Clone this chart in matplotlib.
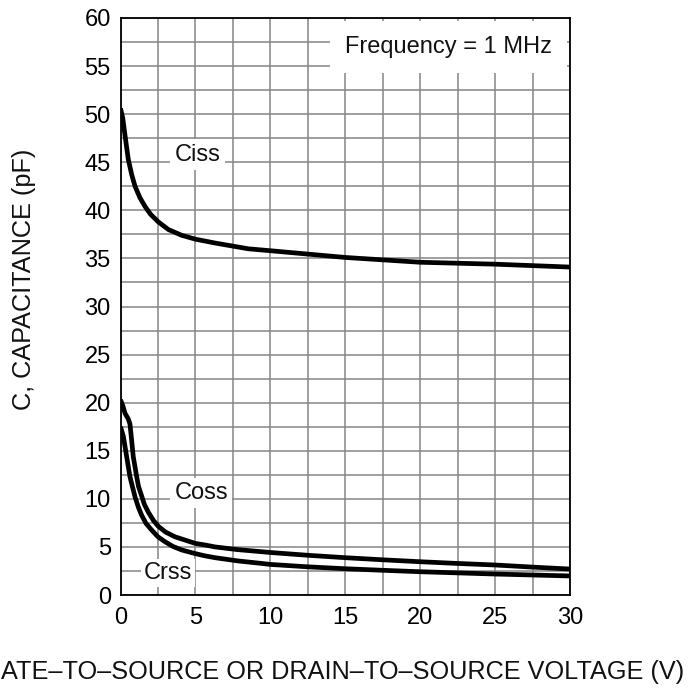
import matplotlib
matplotlib.use("Agg")
import matplotlib.pyplot as plt
from matplotlib.ticker import MultipleLocator

plt.rcParams['font.family'] = ['Liberation Sans', 'DejaVu Sans']

# ---- data ----
ciss_v = [0.0, 0.15, 0.3, 0.52, 0.75, 0.97, 1.3, 1.64, 2.0, 2.52, 3.2, 4.09, 5.0, 6.31, 8.53, 10, 12.5, 15, 17.5, 20, 22.5, 25, 27.5, 30]
ciss_c = [50.6, 49.6, 47.8, 45.3, 43.7, 42.5, 41.3, 40.4, 39.6, 38.8, 38.0, 37.4, 37.0, 36.6, 36.0, 35.8, 35.45, 35.1, 34.85, 34.6, 34.5, 34.4, 34.25, 34.1]

coss_v = [0.0, 0.15, 0.3, 0.52, 0.63, 0.75, 0.85, 1.08, 1.2, 1.41, 1.6, 1.86, 2.2, 2.52, 3.0, 3.64, 4.98, 5.64, 6.31, 7.8, 9.43, 10, 12.5, 15, 17.5, 20, 22.5, 25, 27.5, 30]
coss_c = [20.3, 19.7, 18.9, 18.3, 17.8, 16.0, 14.4, 12.3, 11.3, 10.3, 9.4, 8.6, 7.75, 7.15, 6.55, 6.05, 5.37, 5.2, 5.0, 4.72, 4.5, 4.42, 4.13, 3.88, 3.66, 3.46, 3.28, 3.12, 2.9, 2.7]

crss_v = [0.0, 0.19, 0.41, 0.63, 0.97, 1.2, 1.41, 1.7, 2.08, 2.5, 2.97, 3.5, 4.09, 5.0, 5.64, 6.31, 7.8, 9.43, 10, 12.5, 15, 17.5, 20, 22.5, 25, 27.5, 30]
crss_c = [17.5, 16.5, 14.4, 12.3, 10.2, 9.1, 8.3, 7.45, 6.75, 6.05, 5.54, 5.05, 4.68, 4.3, 4.07, 3.88, 3.55, 3.28, 3.18, 2.93, 2.73, 2.57, 2.42, 2.3, 2.18, 2.08, 1.98]

x_ticks = [0, 5, 10, 15, 20, 25, 30]
y_ticks = [0, 5, 10, 15, 20, 25, 30, 35, 40, 45, 50, 55, 60]

fig = plt.figure(figsize=(6.89, 6.88), dpi=100)
ax = fig.add_axes([120.5 / 689, 93 / 688, 449.5 / 689, 577 / 688])

for v, c in [(ciss_v, ciss_c), (coss_v, coss_c), (crss_v, crss_c)]:
    ax.plot(v, c, color='black', lw=3.4, solid_joinstyle='round', solid_capstyle='butt', zorder=3)

ax.set_xlim(0, 30)
ax.set_ylim(0, 60)
ax.set_xticks(x_ticks)
ax.set_yticks(y_ticks)
ax.xaxis.set_minor_locator(MultipleLocator(2.5))
ax.yaxis.set_minor_locator(MultipleLocator(2.5))
ax.grid(True, which='both', color='#858585', lw=1.1, zorder=1)
ax.set_axisbelow(True)
ax.tick_params(which='both', length=0, labelsize=17, colors='black')
ax.tick_params(axis='x', pad=9)
ax.tick_params(axis='y', pad=7)
for s in ax.spines.values():
    s.set_linewidth(1.3)
    s.set_color('black')

txt_kw = dict(fontsize=17, color='#111111', zorder=4, va='center', ha='left')
ax.text(3.6, 45.8, 'Ciss', bbox=dict(facecolor='white', edgecolor='none', pad=3), **txt_kw)
ax.text(3.6, 10.6, 'Coss', bbox=dict(facecolor='white', edgecolor='none', pad=3), **txt_kw)
ax.text(1.55, 2.3, 'Crss', bbox=dict(facecolor='white', edgecolor='none', pad=2), **txt_kw)
ax.text(15.0, 57.0, 'Frequency = 1 MHz', bbox=dict(facecolor='white', edgecolor='none', pad=11), **txt_kw)

fig.text(24 / 689, 1 - 279 / 688, 'C, CAPACITANCE (pF)', rotation=90, fontsize=18.2,
         ha='center', va='center', color='#111111')
fig.text(684 / 689, 1 - 672 / 688, 'ATE\u2013TO\u2013SOURCE OR DRAIN\u2013TO\u2013SOURCE VOLTAGE (V)',
         fontsize=18.2, ha='right', va='center', color='#111111')

fig.savefig('out.png', dpi=100)
